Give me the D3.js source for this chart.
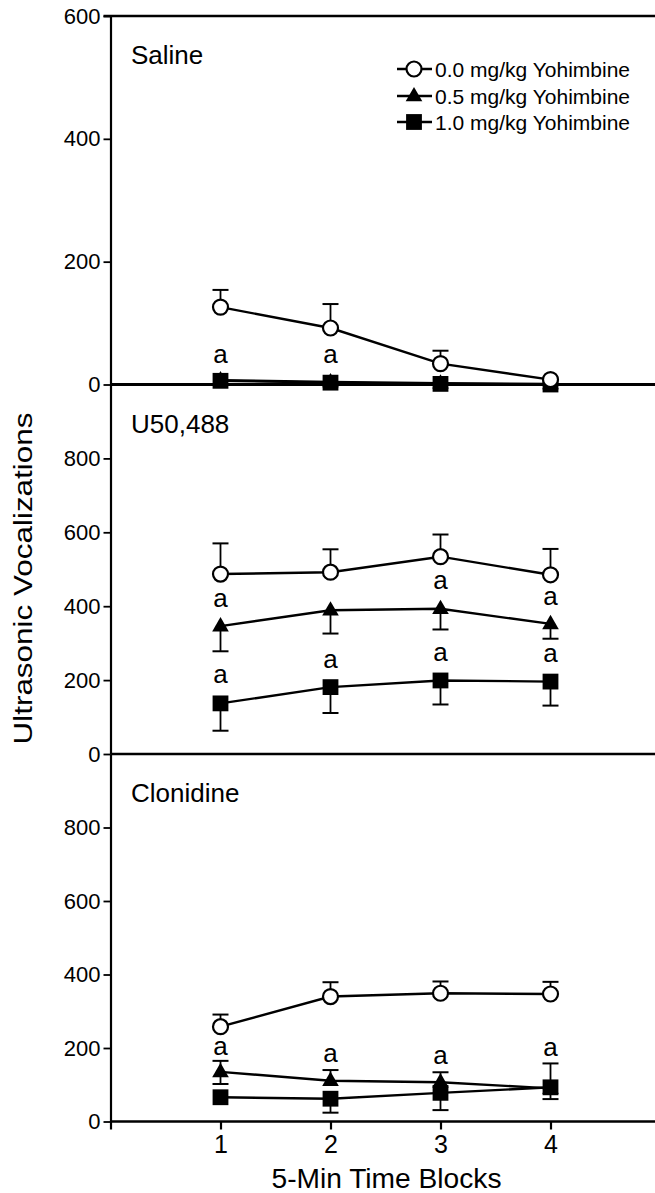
<!DOCTYPE html>
<html><head><meta charset="utf-8">
<script src="https://cdn.jsdelivr.net/npm/d3@7"></script>
<style>
body{margin:0;background:#fff}
svg{display:block;background:#fff}
text{font-family:"Liberation Sans",Arial,Helvetica,sans-serif;fill:#000}
</style>
</head><body>
<svg id="chart" width="655" height="1193"></svg>
<script>
// ---------- data ----------
const timeBlocks = [1, 2, 3, 4];
const seriesNames = ["0.0 mg/kg Yohimbine", "0.5 mg/kg Yohimbine", "1.0 mg/kg Yohimbine"];
const panelNames = ["Saline", "U50,488", "Clonidine"];
const panelMax = [600, 1000, 1000];
const salineTicks = [0, 200, 400, 600];
const drugTicks = [0, 200, 400, 600, 800];

// Saline panel
const salineDose00 = [126, 92, 34, 8];
const salineDose00Hi = [154, 131, 55, null];
const salineDose05 = [7, 4, 2, 1];
const salineDose10 = [6, 3, 1, 0];
const salineSigX = [1, 2];
const salineSigY = [35, 35];

// U50,488 panel
const u50Dose00 = [487, 492, 534, 485];
const u50Dose00Hi = [570, 554, 594, 555];
const u50Dose05 = [346, 389, 393, 352];
const u50Dose05Lo = [278, 326, 337, 312];
const u50Dose10 = [137, 181, 199, 196];
const u50Dose10Lo = [63, 111, 134, 131];
const u50SigX = [1, 3, 4, 1, 2, 3, 4];
const u50SigY = [398, 446, 403, 192, 233, 251, 250];

// Clonidine panel
const cloDose00 = [258, 340, 349, 347];
const cloDose00Hi = [291, 379, 381, 380];
const cloDose05 = [135, 111, 107, 90];
const cloDose05Hi = [165, 140, 134, 158];
const cloDose05Lo = [102, null, null, null];
const cloDose10 = [66, 62, 78, 93];
const cloDose10Lo = [null, 24, 31, 61];
const cloSigX = [1, 2, 3, 4];
const cloSigY = [181, 163, 156, 179];

// ---------- assemble ----------
const panels = [
  {name: panelNames[0], max: panelMax[0], ticks: salineTicks,
   series: [
     {v: salineDose00, hi: salineDose00Hi, lo: null},
     {v: salineDose05, hi: null, lo: null},
     {v: salineDose10, hi: null, lo: null}],
   sigX: salineSigX, sigY: salineSigY, top: 16, bottom: 384.5, zeroW: 3.2},
  {name: panelNames[1], max: panelMax[1], ticks: drugTicks,
   series: [
     {v: u50Dose00, hi: u50Dose00Hi, lo: null},
     {v: u50Dose05, hi: null, lo: u50Dose05Lo},
     {v: u50Dose10, hi: null, lo: u50Dose10Lo}],
   sigX: u50SigX, sigY: u50SigY, top: 384.5, bottom: 754, zeroW: 2.6},
  {name: panelNames[2], max: panelMax[2], ticks: drugTicks,
   series: [
     {v: cloDose00, hi: cloDose00Hi, lo: null},
     {v: cloDose05, hi: cloDose05Hi, lo: cloDose05Lo},
     {v: cloDose10, hi: null, lo: cloDose10Lo}],
   sigX: cloSigX, sigY: cloSigY, top: 754, bottom: 1121.5, zeroW: 2.6}
];

const svg = d3.select("#chart");
const x = d3.scaleLinear().domain([0, 5]).range([110.5, 660.5]);
const font = '"Liberation Sans",Arial,Helvetica,sans-serif';

const triangle = d3.symbol().type(d3.symbolTriangle).size(120);
const square = d3.symbol().type(d3.symbolSquare).size(250);

function drawMarker(g, kind, cx, cy) {
  if (kind === 0) {
    g.append("circle").attr("cx", cx).attr("cy", cy).attr("r", 7.5)
      .attr("fill", "#fff").attr("stroke", "#000").attr("stroke-width", 2.2);
  } else if (kind === 1) {
    g.append("path").attr("d", triangle()).attr("transform", `translate(${cx},${cy + 0.5})`).attr("fill", "#000");
  } else {
    g.append("path").attr("d", square()).attr("transform", `translate(${cx},${cy})`).attr("fill", "#000");
  }
}

panels.forEach((p, pi) => {
  const y = d3.scaleLinear().domain([0, p.max]).range([p.bottom, p.top]);
  const g = svg.append("g");

  // y axis
  const ax = g.append("g").attr("transform", `translate(${x(0)},0)`)
    .call(d3.axisLeft(y).tickValues(p.ticks).tickSize(7).tickSizeOuter(0).tickPadding(3));
  ax.select(".domain").attr("stroke-width", 2.2);
  ax.selectAll(".tick line").attr("stroke-width", 1.8);
  ax.selectAll(".tick text").style("font-size", "22px").style("font-family", font).attr("fill", "#000");

  // zero line (x axis of panel)
  g.append("line").attr("x1", x(0)).attr("x2", 655).attr("y1", y(0)).attr("y2", y(0))
    .attr("stroke", "#000").attr("stroke-width", p.zeroW);
  if (pi === 0) {
    g.append("line").attr("x1", x(0) - 7).attr("x2", 655).attr("y1", y(p.max)).attr("y2", y(p.max))
      .attr("stroke", "#000").attr("stroke-width", 2.4);
  }

  // panel label
  g.append("text").attr("x", 131).attr("y", p.top + 48).style("font-size", "26px").text(p.name);

  const order = [2, 1, 0];
  // error bars
  order.forEach(si => {
    const s = p.series[si];
    [s.hi, s.lo].forEach(arr => {
      if (!arr) return;
      timeBlocks.forEach((t, i) => {
        if (arr[i] == null) return;
        const cx = x(t);
        g.append("line").attr("x1", cx).attr("x2", cx).attr("y1", y(s.v[i])).attr("y2", y(arr[i]))
          .attr("stroke", "#000").attr("stroke-width", 1.8);
        g.append("line").attr("x1", cx - 8).attr("x2", cx + 8).attr("y1", y(arr[i])).attr("y2", y(arr[i]))
          .attr("stroke", "#000").attr("stroke-width", 2);
      });
    });
  });
  // lines
  order.forEach(si => {
    const s = p.series[si];
    const line = d3.line().x((d, i) => x(timeBlocks[i])).y(d => y(d));
    g.append("path").attr("d", line(s.v)).attr("fill", "none").attr("stroke", "#000").attr("stroke-width", 2.4);
  });
  // markers
  order.forEach(si => {
    const s = p.series[si];
    s.v.forEach((d, i) => drawMarker(g, si, x(timeBlocks[i]), y(d)));
  });

  // significance letters
  p.sigX.forEach((sx, i) => {
    g.append("text").attr("x", x(sx)).attr("y", y(p.sigY[i])).attr("text-anchor", "middle")
      .style("font-size", "26px").text("a");
  });
});

// bottom x axis
const bottomY = panels[2].bottom;
const xa = svg.append("g").attr("transform", `translate(0,${bottomY})`)
  .call(d3.axisBottom(x).tickValues([0].concat(timeBlocks)).tickSize(8).tickSizeOuter(0).tickPadding(6)
    .tickFormat(d => d === 0 ? "" : d));
xa.select(".domain").remove();
xa.selectAll(".tick line").attr("stroke-width", 2.2);
xa.selectAll(".tick text").style("font-size", "25px").style("font-family", font).attr("fill", "#000");

// axis titles
svg.append("text").attr("x", 386.5).attr("y", 1188).attr("text-anchor", "middle")
  .style("font-size", "27px").attr("textLength", 230).attr("lengthAdjust", "spacingAndGlyphs")
  .text("5-Min Time Blocks");
svg.append("text").attr("transform", "translate(32,578.5) rotate(-90)").attr("text-anchor", "middle")
  .style("font-size", "26px").attr("textLength", 332).attr("lengthAdjust", "spacingAndGlyphs")
  .text("Ultrasonic Vocalizations");

// legend
const legend = svg.append("g");
const legendY = [69, 96, 122];
seriesNames.forEach((name, i) => {
  const ly = legendY[i];
  legend.append("line").attr("x1", 397).attr("x2", 432).attr("y1", ly).attr("y2", ly)
    .attr("stroke", "#000").attr("stroke-width", 2.4);
  drawMarker(legend, i, 414, ly);
  legend.append("text").attr("x", 435).attr("y", ly + 7.5).style("font-size", "21px")
    .attr("textLength", 195).attr("lengthAdjust", "spacingAndGlyphs").text(name);
});
</script>
</body></html>
